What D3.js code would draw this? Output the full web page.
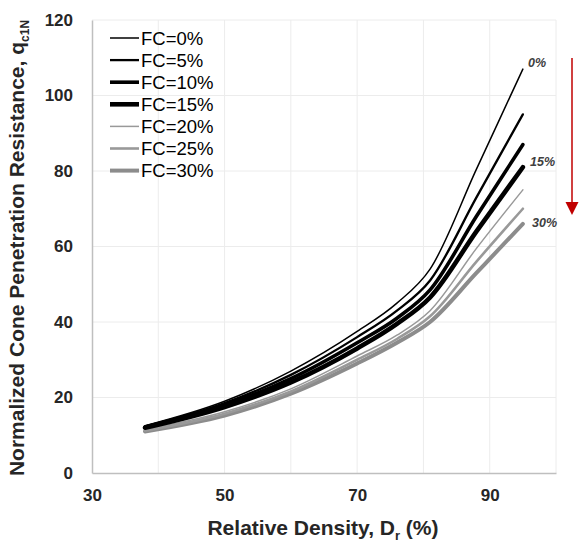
<!DOCTYPE html>
<html>
<head>
<meta charset="utf-8">
<script src="https://cdn.jsdelivr.net/npm/d3@7"></script>
<style>
  html, body { margin: 0; padding: 0; background: #fff; }
  svg { display: block; font-family: "Liberation Sans", Arial, sans-serif; }
</style>
</head>
<body>
<svg id="chart"></svg>
<script>
// relative density (%) where each curve is sampled
const dr = [38, 50, 60, 70, 76, 81, 88, 95];

// q_c1N for each fines content
const fc0  = [12.5, 19.0, 27.0, 37.5, 45.0, 54.0, 80.5, 107];
const fc5  = [12.3, 18.5, 26.0, 36.0, 43.0, 51.0, 73.0, 95];
const fc10 = [12.2, 18.0, 25.0, 34.5, 41.0, 48.5, 68.0, 87];
const fc15 = [12.0, 17.5, 24.0, 33.0, 39.5, 46.5, 64.0, 81];
const fc20 = [11.5, 16.2, 22.3, 31.0, 36.5, 43.0, 59.5, 75];
const fc25 = [11.2, 15.7, 21.6, 30.0, 35.5, 41.5, 56.0, 70];
const fc30 = [11.0, 15.2, 21.0, 29.0, 34.5, 40.0, 53.0, 66];

const seriesNames = ["FC=0%", "FC=5%", "FC=10%", "FC=15%", "FC=20%", "FC=25%", "FC=30%"];
const endLabels = ["0%", "15%", "30%"];
const xTicks = [30, 50, 70, 90];
const yTicks = [0, 20, 40, 60, 80, 100, 120];

const seriesValues = [fc0, fc5, fc10, fc15, fc20, fc25, fc30];
// line look for each series (same order)
const strokeColor = ["#000", "#000", "#000", "#000", "#999", "#999", "#8c8c8c"];
const strokeWidth = [1.5, 2.3, 3.6, 4.6, 1.5, 2.6, 4];

const width = 579, height = 542;
const marginLeft = 92, marginRight = 23, marginTop = 20, marginBottom = 69;

const svg = d3.select("#chart")
    .attr("width", width)
    .attr("height", height)
    .attr("viewBox", `0 0 ${width} ${height}`);

const x = d3.scaleLinear().domain([30, 100]).range([marginLeft, width - marginRight]);
const y = d3.scaleLinear().domain([0, 120]).range([height - marginBottom, marginTop]);

// grid
svg.append("g")
    .attr("stroke", "#ececec")
    .attr("stroke-width", 1)
  .selectAll("line.v")
  .data(d3.range(40, 101, 10))
  .join("line")
    .attr("x1", d => x(d)).attr("x2", d => x(d))
    .attr("y1", y(0)).attr("y2", y(120));

svg.append("g")
    .attr("stroke", "#ececec")
    .attr("stroke-width", 1)
  .selectAll("line.h")
  .data(yTicks.slice(1))
  .join("line")
    .attr("x1", x(30)).attr("x2", x(100))
    .attr("y1", d => y(d)).attr("y2", d => y(d));

// y axis
svg.append("g")
    .attr("transform", `translate(${x(30)},0)`)
    .call(d3.axisLeft(y).tickValues(yTicks).tickSize(0).tickPadding(19))
    .call(g => g.select(".domain").attr("stroke", "#bfbfbf").attr("stroke-width", 1.5))
    .call(g => g.selectAll("text")
        .attr("font-size", 17).attr("font-weight", "bold")
        .attr("fill", "#262626").attr("font-family", null));

// x axis
svg.append("g")
    .attr("transform", `translate(0,${y(0)})`)
    .call(d3.axisBottom(x).tickValues(xTicks).tickSize(0).tickPadding(16))
    .call(g => g.select(".domain").attr("stroke", "#bfbfbf").attr("stroke-width", 1.5))
    .call(g => g.selectAll("text")
        .attr("font-size", 17).attr("font-weight", "bold")
        .attr("fill", "#262626").attr("font-family", null));

// curves
const line = d3.line()
    .x((d, i) => x(dr[i]))
    .y(d => y(d))
    .curve(d3.curveMonotoneX);

svg.append("g")
    .attr("fill", "none")
    .attr("stroke-linecap", "round")
    .attr("stroke-linejoin", "round")
  .selectAll("path")
  .data(seriesValues.map((v, i) => ({v, i})).reverse())
  .join("path")
    .attr("stroke", d => strokeColor[d.i])
    .attr("stroke-width", d => strokeWidth[d.i])
    .attr("d", d => line(d.v));

// legend
const legend = svg.append("g")
  .selectAll("g")
  .data(seriesNames)
  .join("g")
    .attr("transform", (d, i) => `translate(110,${38 + i * 22.1})`);

legend.append("line")
    .attr("x1", 0).attr("x2", 29)
    .attr("stroke", (d, i) => strokeColor[i])
    .attr("stroke-width", (d, i) => strokeWidth[i]);

legend.append("text")
    .attr("x", 31)
    .attr("dy", "0.36em")
    .attr("font-size", 18.5)
    .attr("fill", "#000")
    .text(d => d);

// end-of-curve labels
const labelAt = [[528, 63], [530, 162], [532, 223]];
svg.append("g")
  .selectAll("text")
  .data(endLabels)
  .join("text")
    .attr("x", (d, i) => labelAt[i][0])
    .attr("y", (d, i) => labelAt[i][1])
    .attr("dy", "0.35em")
    .attr("font-size", 12.5)
    .attr("font-weight", "bold")
    .attr("font-style", "italic")
    .attr("fill", "#404040")
    .text(d => d);

// red arrow
svg.append("line")
    .attr("x1", 572).attr("x2", 572)
    .attr("y1", 58).attr("y2", 203)
    .attr("stroke", "#c00000")
    .attr("stroke-width", 1.5);
svg.append("path")
    .attr("d", "M565.5,202 L578.5,202 L572,215 Z")
    .attr("fill", "#c00000");

// axis titles
svg.append("text")
    .attr("x", 323)
    .attr("y", 535)
    .attr("text-anchor", "middle")
    .attr("font-size", 21)
    .attr("font-weight", "bold")
    .attr("fill", "#262626")
    .call(t => {
      t.append("tspan").text("Relative Density, D");
      t.append("tspan").attr("font-size", 13).attr("dy", 5).text("r");
      t.append("tspan").attr("dy", -5).text(" (%)");
    });

svg.append("text")
    .attr("transform", "translate(24,248) rotate(-90)")
    .attr("text-anchor", "middle")
    .attr("font-size", 21)
    .attr("font-weight", "bold")
    .attr("fill", "#262626")
    .call(t => {
      t.append("tspan").text("Normalized Cone Penetration Resistance, q");
      t.append("tspan").attr("font-size", 12).attr("dy", 5).text("c1N");
    });
</script>
</body>
</html>
